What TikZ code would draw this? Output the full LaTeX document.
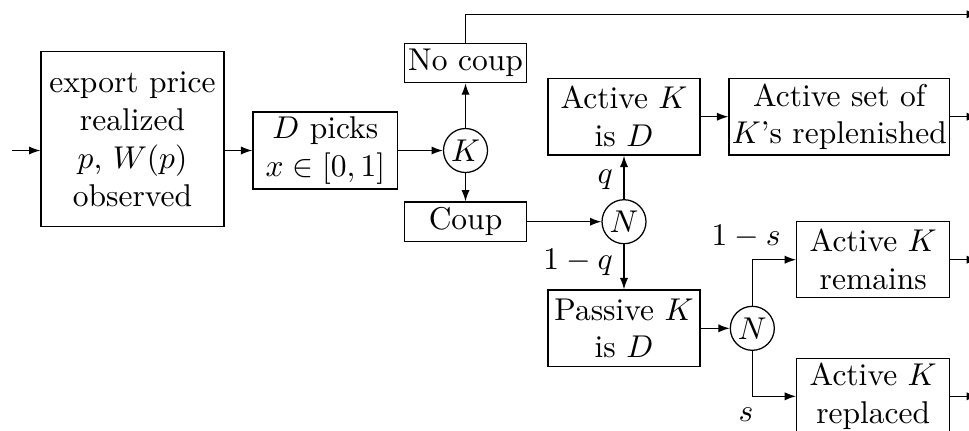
\documentclass[tikz,border=0pt]{standalone}
\usetikzlibrary{arrows.meta}

\tikzset{
  blk/.style n args={2}{draw, rectangle, align=center, inner sep=0pt,
    minimum width={#1*0.3175pt}, minimum height={#2*0.3175pt}},
  chance/.style={draw, circle, inner sep=0pt, minimum size={44*0.3175pt}},
  flow/.style={-{Latex[length=3.6pt,width=2.6pt]}},
}

\begin{document}
\begin{tikzpicture}[x=0.3175pt, y=-0.3175pt, flow]
  \useasboundingbox (0,0) rectangle (969,430);
  \clip (0,0) rectangle (969,430);

  % decision stages
  \node[blk={183}{175}] (price) at (132.5,139.2)
    {export price\\realized\\$p$, $W(p)$\\observed};
  \node[blk={144.7}{77}] (pick) at (325.3,150.5) {$D$ picks\\$x\in[0,1]$};
  \node[chance] (k) at (465.5,150.5) {$K$};
  \node[blk={122.7}{39.4}] (nocoup) at (465.5,63) {No coup};
  \node[blk={122.7}{39.4}] (coup) at (465.5,221.7) {Coup};
  \node[chance] (n1) at (624,221.7) {$N$};
  \node[blk={152}{76.7}] (actd) at (624,116.7) {Active $K$\\is $D$};
  \node[blk={220.7}{76.7}] (aset) at (839.3,116.7) {Active set of\\$K$'s replenished};
  \node[blk={152}{76.7}] (pasd) at (624,328.3) {Passive $K$\\is $D$};
  \node[chance] (n2) at (752.3,328.3) {$N$};
  \node[blk={153}{76}] (remain) at (873.2,259.7) {Active $K$\\remains};
  \node[blk={153}{76}] (replace) at (873.2,396.3) {Active $K$\\replaced};

  % loose ends leaving the frame
  \coordinate (start) at (12,150.5);
  \coordinate (top) at (465.5,14.3);
  \coordinate (out0) at (978,14.3);
  \coordinate (out1) at (978,116.7);
  \coordinate (out2) at (978,259.7);
  \coordinate (out3) at (978,396.3);

  % connectors
  \draw (start) -- (start -| price.west);
  \draw (price.east |- pick) -- (pick);
  \draw (pick) -- (k);
  \draw (k) -- (nocoup);
  \draw (k) -- (coup);
  \draw[-] (nocoup.north) -- (top);
  \draw (top) -- (out0);
  \draw (coup) -- (n1);
  \draw (n1) -- node[left, pos=0.45] {$q$} (actd);
  \draw (n1) -- node[left, pos=0.4] {$1-q$} (pasd);
  \draw (actd) -- (aset);
  \draw (aset) -- (out1);
  \draw (pasd) -- (n2);
  \draw (n2.north) |- node[pos=0.5, above, xshift=-2pt] {$1-s$} (remain.west);
  \draw (n2.south) |- node[pos=0.5, below, xshift=-2pt] {$s$} (replace.west);
  \draw (remain) -- (out2);
  \draw (replace) -- (out3);
\end{tikzpicture}
\end{document}
